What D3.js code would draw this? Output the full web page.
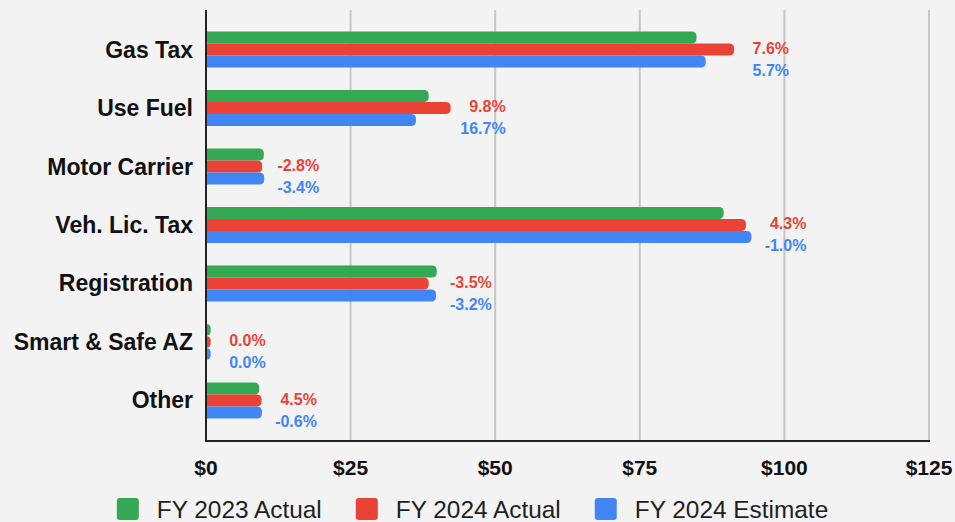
<!DOCTYPE html>
<html>
<head>
<meta charset="utf-8">
<script src="https://cdn.jsdelivr.net/npm/d3@7"></script>
<style>
  html, body { margin: 0; padding: 0; background: #f3f3f3; }
  svg { display: block; font-family: "Liberation Sans", Arial, sans-serif; }
</style>
</head>
<body>
<svg id="chart" width="955" height="522"></svg>
<script>
const categories = ["Gas Tax", "Use Fuel", "Motor Carrier", "Veh. Lic. Tax", "Registration", "Smart & Safe AZ", "Other"];
const seriesNames = ["FY 2023 Actual", "FY 2024 Actual", "FY 2024 Estimate"];
const fy2023Actual   = [84.8, 38.5, 10.0, 89.5, 39.9, 0.8, 9.2];
const fy2024Actual   = [91.3, 42.3, 9.72, 93.35, 38.5, 0.8, 9.61];
const fy2024Estimate = [86.4, 36.3, 10.06, 94.3, 39.77, 0.8, 9.67];
const vsActualLabels   = ["7.6%", "9.8%", "-2.8%", "4.3%", "-3.5%", "0.0%", "4.5%"];
const vsEstimateLabels = ["5.7%", "16.7%", "-3.4%", "-1.0%", "-3.2%", "0.0%", "-0.6%"];
const xTicks = [0, 25, 50, 75, 100, 125];
const colors = ["#34a853", "#ea4335", "#4285f4"];

(function () {
const seriesValues = [fy2023Actual, fy2024Actual, fy2024Estimate];
const svg = d3.select("#chart");
const W = 955, H = 522;
const mLeft = 206, mRight = 929, mTop = 9, mBottom = 441;

const x = d3.scaleLinear().domain([0, 125]).range([mLeft, mRight]);
const y = d3.scaleBand().domain(categories).range([mTop, mBottom]).paddingInner(0.386).paddingOuter(0.386);
const ys = d3.scaleBand().domain(seriesNames).range([0, y.bandwidth()]);

svg.append("rect").attr("width", W).attr("height", H).attr("fill", "#f3f3f3");

// grid lines
svg.append("g").selectAll("line").data(xTicks.filter(t => t > 0)).join("line")
  .attr("x1", d => x(d)).attr("x2", d => x(d))
  .attr("y1", mTop + 1).attr("y2", mBottom)
  .attr("stroke", "#c6c6c6").attr("stroke-width", 2);

// bars
function barPath(x0, x1, y0, h) {
  const w = x1 - x0;
  const r = Math.min(5, w, h / 2);
  return `M${x0},${y0}H${x1 - r}Q${x1},${y0} ${x1},${y0 + r}V${y0 + h - r}Q${x1},${y0 + h} ${x1 - r},${y0 + h}H${x0}Z`;
}
seriesNames.forEach((s, si) => {
  svg.append("g").selectAll("path").data(categories).join("path")
    .attr("d", (c, i) => barPath(x(0), x(seriesValues[si][i]), y(c) + ys(s), ys.bandwidth()))
    .attr("fill", colors[si]);
});

// axes lines
svg.append("line").attr("x1", x(0)).attr("x2", x(0)).attr("y1", mTop + 1).attr("y2", mBottom + 1)
  .attr("stroke", "#222").attr("stroke-width", 2);
svg.append("line").attr("x1", x(0) - 1).attr("x2", x(125) + 1).attr("y1", mBottom).attr("y2", mBottom)
  .attr("stroke", "#222").attr("stroke-width", 2);

// x tick labels
svg.append("g").selectAll("text").data(xTicks).join("text")
  .attr("x", d => x(d)).attr("y", 475)
  .attr("text-anchor", "middle").attr("font-size", 21).attr("font-weight", "bold").attr("fill", "#111")
  .text(d => "$" + d);

// category labels
svg.append("g").selectAll("text").data(categories).join("text")
  .attr("x", 193).attr("y", c => y(c) + y.bandwidth() / 2 + 8)
  .attr("text-anchor", "end").attr("font-size", 23).attr("font-weight", "bold").attr("fill", "#111")
  .text(c => c);

// change labels
const labelG = svg.append("g").attr("font-size", 16).attr("font-weight", "bold").attr("text-anchor", "end");
categories.forEach((c, i) => {
  const maxV = Math.max(fy2023Actual[i], fy2024Actual[i], fy2024Estimate[i]);
  const lx = x(maxV) + 55;
  const cy = y(c) + y.bandwidth() / 2;
  labelG.append("text").attr("x", lx).attr("y", cy - 1.5).attr("dy", "0.35em")
    .attr("fill", colors[1]).text(vsActualLabels[i]);
  labelG.append("text").attr("x", lx).attr("y", cy + 20.5).attr("dy", "0.35em")
    .attr("fill", colors[2]).text(vsEstimateLabels[i]);
});

// legend
const legend = svg.append("g");
let lxPos = 0;
seriesNames.forEach((s, i) => {
  const g = legend.append("g");
  g.append("rect").attr("x", 0).attr("y", 498).attr("width", 22).attr("height", 22).attr("rx", 3)
    .attr("fill", colors[i]);
  const t = g.append("text").attr("x", 40).attr("y", 518).attr("font-size", 24.4).attr("fill", "#1e1e1e").text(s);
  const w = t.node().getComputedTextLength();
  g.attr("transform", `translate(${lxPos},0)`);
  lxPos += 40 + w + 34;
});
const totalW = lxPos - 34;
legend.attr("transform", `translate(${472.5 - totalW / 2},0)`);
})();
</script>
</body>
</html>
